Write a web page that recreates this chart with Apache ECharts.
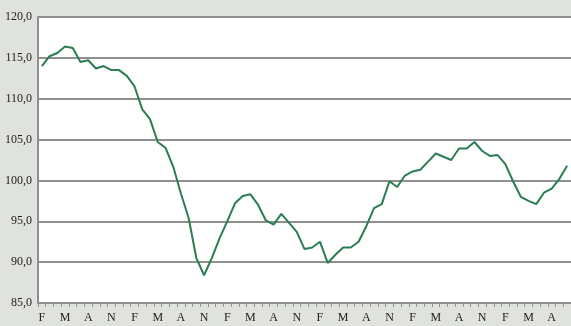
<!DOCTYPE html>
<html>
<head>
<meta charset="utf-8">
<script src="https://cdn.jsdelivr.net/npm/echarts@6/dist/echarts.min.js"></script>
<style>
html,body{margin:0;padding:0;background:#dfe2dd;}
#c{width:571px;height:326px;}
</style>
</head>
<body>
<div id="c"></div>
<script>
var categories = [
 'F','M','A','M','J','J','A','S','O','N','D','J',
 'F','M','A','M','J','J','A','S','O','N','D','J',
 'F','M','A','M','J','J','A','S','O','N','D','J',
 'F','M','A','M','J','J','A','S','O','N','D','J',
 'F','M','A','M','J','J','A','S','O','N','D','J',
 'F','M','A','M','J','J','A','S','O'
];
var values = [
 114.0,115.2,115.6,116.4,116.2,114.5,114.7,113.7,114.0,113.5,113.5,112.8,
 111.5,108.7,107.5,104.7,104.0,101.7,98.4,95.4,90.5,88.4,90.5,92.9,
 95.0,97.2,98.1,98.3,97.0,95.1,94.6,95.9,94.8,93.7,91.6,91.8,
 92.5,89.9,90.9,91.8,91.8,92.5,94.4,96.6,97.1,99.9,99.2,100.6,
 101.1,101.3,102.3,103.3,102.9,102.5,103.9,103.9,104.7,103.6,103.0,103.1,
 102.0,99.9,98.0,97.5,97.1,98.5,99.0,100.2,101.8
];
var yMin = 85, yMax = 120, yStep = 5;

var chart = echarts.init(document.getElementById('c'), null, {renderer:'canvas'});
var gray = '#8f8f8f';
chart.setOption({
  backgroundColor: '#dfe2dd',
  animation: false,
  grid: {left: 38, top: 17, width: 536, bottom: 23, show: true, backgroundColor: '#ffffff', borderWidth: 0, containLabel: false},
  xAxis: {
    type: 'category', data: categories, boundaryGap: true,
    axisLine: {show: true, lineStyle: {color: gray, width: 2}},
    axisTick: {show: true, interval: 0, length: 4, lineStyle: {color: gray, width: 1}},
    axisLabel: {interval: 2, color: '#222', fontFamily: 'Liberation Serif', fontSize: 12, margin: 9},
    splitLine: {show: false}
  },
  yAxis: {
    type: 'value', min: yMin, max: yMax, interval: yStep,
    axisLine: {show: true, lineStyle: {color: gray, width: 2}},
    axisTick: {show: false},
    axisLabel: {color: '#222', fontFamily: 'Liberation Serif', fontSize: 12, margin: 6,
      formatter: function(v){ return v.toFixed(1).replace('.', ','); }},
    splitLine: {show: true, lineStyle: {color: gray, width: 2}}
  },
  series: [{
    type: 'line', data: values, symbol: 'none', smooth: false,
    lineStyle: {color: '#2b7d52', width: 2}
  }]
});
</script>
</body>
</html>
